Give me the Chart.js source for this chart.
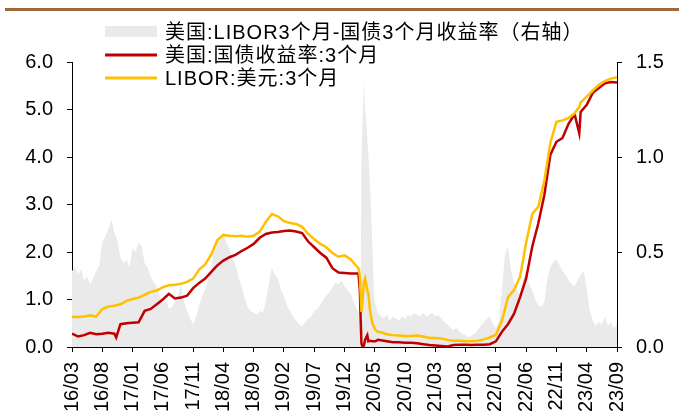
<!DOCTYPE html>
<html>
<head>
<meta charset="utf-8">
<script src="https://cdn.jsdelivr.net/npm/chart.js@4"></script>
<style>
html, body { margin: 0; padding: 0; background: #fff; }
#wrap { width: 679px; height: 419px; }
</style>
</head>
<body>
<div id="wrap"><canvas id="myChart" width="679" height="419"></canvas></div>
<script>
// x axis tick labels (every 5 months)
const xTickLabels = ['16/03', '16/08', '17/01', '17/06', '17/11', '18/04', '18/09', '19/02', '19/07', '19/12',
    '20/05', '20/10', '21/03', '21/08', '22/01', '22/06', '22/11', '23/04', '23/09'];

const lineDates = [
    '2016-03-01', '2016-04-01', '2016-05-01', '2016-06-01', '2016-07-01', '2016-08-01', '2016-09-01', '2016-10-01', '2016-10-10', '2016-11-01', '2016-12-01',
    '2017-01-01', '2017-02-01', '2017-03-01', '2017-04-01', '2017-05-01', '2017-06-01', '2017-07-01', '2017-08-01', '2017-09-01', '2017-10-01', '2017-11-01', '2017-12-01',
    '2018-01-01', '2018-02-01', '2018-03-01', '2018-04-01', '2018-05-01', '2018-06-01', '2018-07-01', '2018-08-01', '2018-09-01', '2018-10-01', '2018-11-01', '2018-12-01',
    '2019-01-01', '2019-02-01', '2019-03-01', '2019-04-01', '2019-05-01', '2019-06-01', '2019-07-01', '2019-08-01', '2019-09-01', '2019-10-01', '2019-11-01', '2019-12-01',
    '2020-01-01', '2020-02-01', '2020-02-10', '2020-02-17', '2020-02-21', '2020-02-25', '2020-03-01', '2020-03-07', '2020-03-13', '2020-03-18', '2020-03-24', '2020-03-29',
    '2020-04-07', '2020-04-19', '2020-05-04', '2020-05-16', '2020-06-01', '2020-07-01', '2020-08-01', '2020-09-01', '2020-10-01', '2020-11-01', '2020-12-01',
    '2021-01-01', '2021-02-01', '2021-03-01', '2021-04-01', '2021-05-01', '2021-06-01', '2021-07-01', '2021-08-01', '2021-09-01', '2021-10-01', '2021-11-01', '2021-12-01',
    '2022-01-01', '2022-02-01', '2022-03-01', '2022-04-01', '2022-05-01', '2022-06-01', '2022-07-01', '2022-08-01', '2022-09-01', '2022-10-01', '2022-11-01', '2022-12-01',
    '2023-01-01', '2023-02-01', '2023-02-24', '2023-03-01', '2023-04-01', '2023-05-01', '2023-06-01', '2023-07-01', '2023-08-01', '2023-09-01'
];

// 美国:国债收益率:3个月
const treasury3m = [
    0.28, 0.22, 0.25, 0.30, 0.27, 0.28, 0.30, 0.28, 0.20, 0.48, 0.50,
    0.51, 0.52, 0.76, 0.80, 0.90, 1.00, 1.12, 1.02, 1.04, 1.08, 1.24, 1.35,
    1.44, 1.58, 1.72, 1.82, 1.89, 1.94, 2.02, 2.09, 2.17, 2.30, 2.38, 2.41,
    2.42, 2.44, 2.45, 2.43, 2.40, 2.22, 2.10, 1.98, 1.88, 1.66, 1.57, 1.56,
    1.55, 1.55, 1.55, 1.20, 0.60, 0.07, 0.00, 0.03, 0.15, 0.20, 0.25, 0.12,
    0.13, 0.12, 0.12, 0.15, 0.14, 0.12, 0.10, 0.10, 0.09, 0.09, 0.08,
    0.06, 0.04, 0.03, 0.02, 0.01, 0.04, 0.05, 0.05, 0.04, 0.05, 0.05, 0.06,
    0.12, 0.32, 0.48, 0.70, 1.05, 1.45, 2.11, 2.60, 3.20, 4.05, 4.32, 4.40,
    4.70, 4.90, 4.50, 4.95, 5.10, 5.35, 5.45, 5.55, 5.58, 5.57
];

// LIBOR:美元:3个月
const libor3m = [
    0.63, 0.63, 0.64, 0.67, 0.64, 0.80, 0.85, 0.87, 0.88, 0.90, 0.97,
    1.01, 1.04, 1.10, 1.16, 1.19, 1.26, 1.30, 1.31, 1.33, 1.37, 1.44, 1.63,
    1.74, 1.95, 2.25, 2.36, 2.34, 2.33, 2.34, 2.32, 2.34, 2.43, 2.63, 2.80,
    2.75, 2.65, 2.61, 2.59, 2.53, 2.38, 2.27, 2.17, 2.10, 1.98, 1.90, 1.93,
    1.85, 1.70, 1.66, 1.50, 1.13, 0.74, 0.99, 1.38, 1.45, 1.34, 1.20, 1.13,
    0.78, 0.50, 0.36, 0.32, 0.31, 0.27, 0.25, 0.24, 0.23, 0.23, 0.24,
    0.22, 0.19, 0.19, 0.18, 0.15, 0.13, 0.13, 0.12, 0.12, 0.13, 0.16, 0.20,
    0.26, 0.55, 1.05, 1.20, 1.48, 2.20, 2.80, 2.95, 3.50, 4.30, 4.74, 4.77,
    4.82, 4.92, 5.05, 5.15, 5.27, 5.40, 5.52, 5.60, 5.65, 5.68
];

const spreadDates = [
    '2016-03-01', '2016-03-16', '2016-04-01', '2016-04-16', '2016-05-01', '2016-05-16', '2016-06-01', '2016-06-16', '2016-07-01', '2016-07-16',
    '2016-08-01', '2016-08-16', '2016-09-01', '2016-09-16', '2016-10-01', '2016-10-16', '2016-11-01', '2016-11-16', '2016-12-01', '2016-12-16',
    '2017-01-01', '2017-01-16', '2017-02-01', '2017-02-16', '2017-03-01', '2017-03-16', '2017-04-01', '2017-04-16', '2017-05-01', '2017-05-16',
    '2017-06-01', '2017-06-16', '2017-07-01', '2017-07-16', '2017-08-01', '2017-08-16', '2017-09-01', '2017-09-16', '2017-10-01', '2017-10-16',
    '2017-11-01', '2017-11-16', '2017-12-01', '2017-12-16', '2018-01-01', '2018-01-16', '2018-02-01', '2018-02-16', '2018-03-01', '2018-03-16',
    '2018-04-01', '2018-04-16', '2018-05-01', '2018-05-16', '2018-06-01', '2018-06-16', '2018-07-01', '2018-07-16', '2018-08-01', '2018-08-16',
    '2018-09-01', '2018-09-16', '2018-10-01', '2018-10-16', '2018-11-01', '2018-11-16', '2018-12-01', '2018-12-16', '2019-01-01', '2019-01-16',
    '2019-02-01', '2019-02-16', '2019-03-01', '2019-03-16', '2019-04-01', '2019-04-16', '2019-05-01', '2019-05-16', '2019-06-01', '2019-06-16',
    '2019-07-01', '2019-07-16', '2019-08-01', '2019-08-16', '2019-09-01', '2019-09-16', '2019-10-01', '2019-10-16', '2019-11-01', '2019-11-16',
    '2019-12-01', '2019-12-16', '2020-01-01', '2020-01-16', '2020-02-01', '2020-02-16', '2020-02-22', '2020-02-25', '2020-03-01', '2020-03-07',
    '2020-03-13', '2020-03-19', '2020-03-30', '2020-04-13', '2020-04-28', '2020-05-16', '2020-06-01', '2020-06-16', '2020-07-01', '2020-07-16',
    '2020-08-01', '2020-08-16', '2020-09-01', '2020-09-16', '2020-10-01', '2020-10-16', '2020-11-01', '2020-11-16', '2020-12-01', '2020-12-16',
    '2021-01-01', '2021-01-16', '2021-02-01', '2021-02-16', '2021-03-01', '2021-03-16', '2021-04-01', '2021-04-16', '2021-05-01', '2021-05-16',
    '2021-06-01', '2021-06-16', '2021-07-01', '2021-07-16', '2021-08-01', '2021-08-16', '2021-09-01', '2021-09-16', '2021-10-01', '2021-10-16',
    '2021-11-01', '2021-11-16', '2021-12-01', '2021-12-16', '2022-01-01', '2022-01-16', '2022-02-01', '2022-02-16', '2022-03-01', '2022-03-16',
    '2022-04-01', '2022-04-16', '2022-05-01', '2022-05-16', '2022-06-01', '2022-06-16', '2022-07-01', '2022-07-16', '2022-08-01', '2022-08-16',
    '2022-09-01', '2022-09-16', '2022-10-01', '2022-10-16', '2022-11-01', '2022-11-16', '2022-12-01', '2022-12-16', '2023-01-01', '2023-01-16',
    '2023-02-01', '2023-02-16', '2023-03-01', '2023-03-16', '2023-04-01', '2023-04-16', '2023-05-01', '2023-05-16', '2023-06-01', '2023-06-16',
    '2023-07-01', '2023-07-16', '2023-08-01', '2023-08-16', '2023-09-01'
];

// 美国:LIBOR3个月-国债3个月收益率（右轴）
const spreadValues = [
    0.40, 0.42, 0.38, 0.41, 0.35, 0.37, 0.33, 0.36, 0.40, 0.43,
    0.55, 0.58, 0.62, 0.67, 0.60, 0.56, 0.47, 0.44, 0.46, 0.42,
    0.52, 0.50, 0.55, 0.53, 0.44, 0.42, 0.37, 0.34, 0.32, 0.27,
    0.23, 0.25, 0.20, 0.21, 0.24, 0.27, 0.33, 0.24, 0.19, 0.15,
    0.12, 0.16, 0.22, 0.27, 0.30, 0.36, 0.42, 0.52, 0.55, 0.58,
    0.60, 0.55, 0.52, 0.47, 0.43, 0.37, 0.32, 0.26, 0.21, 0.19,
    0.18, 0.17, 0.19, 0.18, 0.24, 0.33, 0.42, 0.38, 0.36, 0.30,
    0.27, 0.22, 0.19, 0.16, 0.14, 0.12, 0.11, 0.13, 0.15, 0.16,
    0.19, 0.20, 0.22, 0.25, 0.27, 0.29, 0.31, 0.34, 0.33, 0.35,
    0.32, 0.30, 0.28, 0.24, 0.20, 0.18, 0.45, 0.98, 1.20, 1.40,
    1.25, 1.18, 1.00, 0.72, 0.25, 0.18, 0.16, 0.15, 0.17, 0.14,
    0.16, 0.15, 0.14, 0.16, 0.15, 0.17, 0.16, 0.18, 0.17, 0.16,
    0.18, 0.16, 0.17, 0.18, 0.16, 0.17, 0.15, 0.13, 0.12, 0.10,
    0.09, 0.10, 0.08, 0.07, 0.06, 0.05, 0.06, 0.07, 0.09, 0.11,
    0.13, 0.15, 0.16, 0.12, 0.10, 0.14, 0.30, 0.49, 0.53, 0.40,
    0.34, 0.30, 0.28, 0.36, 0.40, 0.33, 0.30, 0.25, 0.22, 0.21,
    0.24, 0.36, 0.42, 0.45, 0.46, 0.43, 0.40, 0.38, 0.35, 0.33,
    0.32, 0.35, 0.38, 0.40, 0.30, 0.19, 0.14, 0.11, 0.13, 0.12,
    0.16, 0.11, 0.13, 0.10, 0.12
];

const fontFamily = '"Liberation Sans", Arial, "Noto Sans CJK SC", sans-serif';

// month offset from 2016-03
const toMonth = (d) => {
    const [y, m, day] = d.split('-').map(Number);
    return (y - 2016) * 12 + (m - 3) + (day - 1) / 30;
};
const toPoints = (dates, values) => dates.map((d, i) => ({ x: toMonth(d), y: values[i] }));

const legendPlugin = {
    id: 'customLegend',
    beforeDraw(chart) {
        const ctx = chart.ctx;
        ctx.save();
        ctx.fillStyle = '#9C6A3C';
        ctx.fillRect(5, 8, 674, 3);
        ctx.restore();
    },
    afterDraw(chart) {
        const ctx = chart.ctx;
        const ds = chart.data.datasets;
        const rows = [32, 55, 78];
        ctx.save();
        ctx.font = '20px ' + fontFamily;
        ctx.letterSpacing = '1px';
        ctx.textBaseline = 'middle';
        ds.forEach((d, i) => {
            const y = rows[i];
            if (d.fill) {
                ctx.fillStyle = d.backgroundColor;
                ctx.fillRect(105, y - 6, 52, 11);
            } else {
                ctx.strokeStyle = d.borderColor;
                ctx.lineWidth = 3;
                ctx.beginPath();
                ctx.moveTo(105, y);
                ctx.lineTo(157, y);
                ctx.stroke();
            }
            ctx.fillStyle = '#000';
            ctx.fillText(d.label, 165, y + 1);
        });
        ctx.restore();
    }
};

const ctx = document.getElementById('myChart').getContext('2d');

const tickFont = { family: fontFamily, size: 20 };

const config = {
    type: 'line',
    data: {
        datasets: [
            {
                label: '美国:LIBOR3个月-国债3个月收益率（右轴）',
                data: toPoints(spreadDates, spreadValues),
                yAxisID: 'y2',
                fill: 'origin',
                backgroundColor: '#EAEAEA',
                borderWidth: 0,
                pointRadius: 0,
                order: 3,
            },
            {
                label: '美国:国债收益率:3个月',
                data: toPoints(lineDates, treasury3m),
                yAxisID: 'y',
                borderColor: '#C00000',
                borderWidth: 2.5,
                pointRadius: 0,
                fill: false,
                order: 2,
            },
            {
                label: 'LIBOR:美元:3个月',
                data: toPoints(lineDates, libor3m),
                yAxisID: 'y',
                borderColor: '#FFC000',
                borderWidth: 2.5,
                pointRadius: 0,
                fill: false,
                order: 1,
            },
        ],
    },
    options: {
        responsive: false,
        animation: false,
        devicePixelRatio: 1,
        events: [],
        layout: { padding: { top: 62, left: 0, right: 0, bottom: 0 } },
        plugins: {
            legend: { display: false },
            tooltip: { enabled: false },
        },
        scales: {
            x: {
                type: 'linear',
                min: 0,
                max: 90,
                ticks: {
                    stepSize: 5,
                    autoSkip: false,
                    minRotation: 90,
                    maxRotation: 90,
                    padding: 10,
                    color: '#000',
                    font: tickFont,
                    callback: (v, i) => xTickLabels[i],
                },
                grid: { drawOnChartArea: false, tickLength: 5, color: '#000' },
                border: { color: '#000' },
                afterFit: (s) => { s.height = 72; },
            },
            y: {
                position: 'left',
                min: 0,
                max: 6,
                ticks: {
                    stepSize: 1,
                    padding: 14,
                    color: '#000',
                    font: tickFont,
                    callback: (v) => v.toFixed(1),
                },
                grid: { drawOnChartArea: false, tickLength: 5, color: '#000' },
                border: { color: '#000' },
                afterFit: (s) => { s.width = 72; },
            },
            y2: {
                position: 'right',
                min: 0,
                max: 1.5,
                ticks: {
                    stepSize: 0.5,
                    padding: 14,
                    color: '#000',
                    font: tickFont,
                    callback: (v) => v.toFixed(1),
                },
                grid: { drawOnChartArea: false, tickLength: 5, color: '#000' },
                border: { color: '#000' },
                afterFit: (s) => { s.width = 62; },
            },
        },
    },
    plugins: [legendPlugin],
};

const myLineChart = new Chart(ctx, config);
</script>
</body>
</html>
